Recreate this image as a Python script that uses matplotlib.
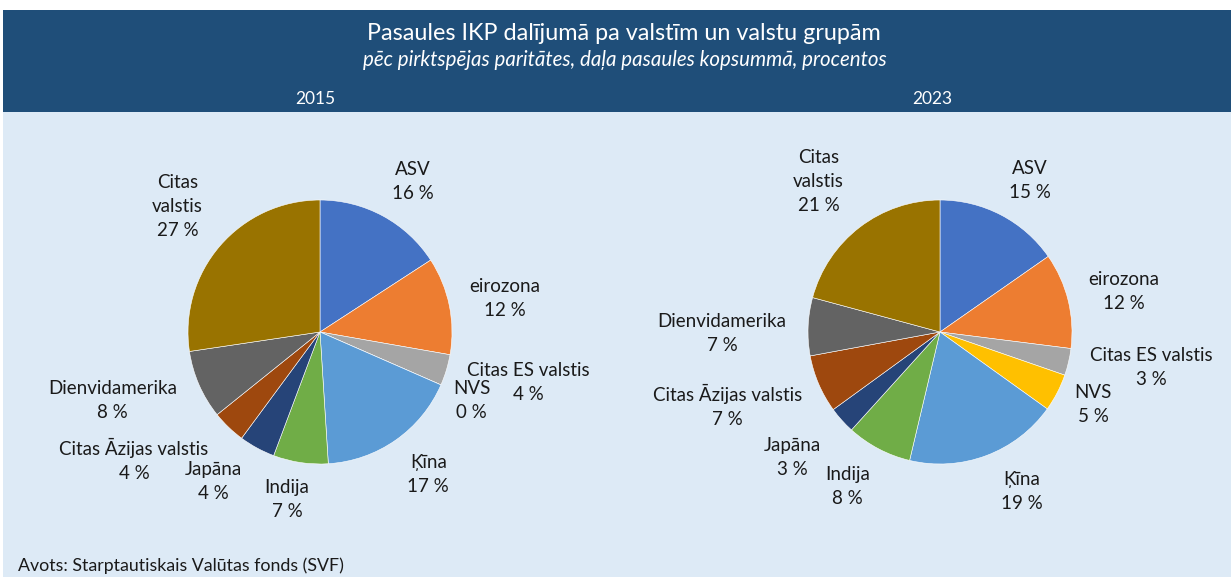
import matplotlib
matplotlib.use("Agg")
from matplotlib import pyplot as plt
from matplotlib.patches import Rectangle

plt.rcParams['font.family'] = ['Lato', 'DejaVu Sans']

# data (shares of world GDP, PPP, %)
regions = ["ASV", "eirozona", "Citas ES valstis", "NVS", "Ķīna", "Indija",
           "Japāna", "Citas Āzijas valstis", "Dienvidamerika", "Citas valstis"]
labels_2015 = ["ASV", "eirozona", "Citas ES valstis", "NVS", "Ķīna", "Indija",
               "Japāna", "Citas Āzijas valstis", "Dienvidamerika", "Citas\nvalstis"]
labels_2023 = labels_2015
share_2015 = [15.8, 11.9, 3.8, 0.0, 17.4, 6.7, 4.4, 4.1, 8.4, 27.3]
share_2023 = [15.3, 11.7, 3.3, 4.6, 18.8, 8.0, 3.3, 7.1, 7.1, 20.8]
colors = ["#4472C4", "#ED7D31", "#A5A5A5", "#FFC000", "#5B9BD5", "#70AD47",
          "#264478", "#9E480E", "#636363", "#997300"]

# label offsets in pie radius units (layout only)
pos_2015 = [(0.70, 1.14), (1.40, 0.25), (1.58, -0.38), (1.15, -0.52), (0.82, -1.08),
            (-0.25, -1.27), (-0.81, -1.13), (-1.41, -0.97), (-1.57, -0.52), (-1.08, 0.95)]
pos_2023 = [(0.68, 1.15), (1.39, 0.31), (1.60, -0.27), (1.16, -0.55), (0.62, -1.21),
            (-0.70, -1.17), (-1.12, -0.95), (-1.61, -0.56), (-1.65, -0.01), (-0.92, 1.14)]

W, H = 1231, 577
fig = plt.figure(figsize=(W / 100, H / 100), dpi=100)
fig.patch.set_facecolor("white")

# background panels on their own axes, below the pies
bg = fig.add_axes([0, 0, 1, 1], zorder=-1)
bg.set_xlim(0, W)
bg.set_ylim(H, 0)
bg.axis("off")
bg.add_patch(Rectangle((3, 112), W, H - 112, facecolor="#DDEAF6", edgecolor="none"))
bg.add_patch(Rectangle((3, 10), W, 102, facecolor="#1F4E79", edgecolor="none"))

bg.text(624, 33, "Pasaules IKP dalījumā pa valstīm un valstu grupām",
        color="white", fontsize=16.8, ha="center", va="center")
bg.text(625, 60, "pēc pirktspējas paritātes, daļa pasaules kopsummā, procentos",
        color="white", fontsize=14.8, style="italic", ha="center", va="center")
bg.text(315, 99, "2015", color="white", fontsize=12.5, ha="center", va="center")
bg.text(932, 99, "2023", color="white", fontsize=12.5, ha="center", va="center")
bg.text(18, 566, "Avots: Starptautiskais Valūtas fonds (SVF)",
        color="#1a1a1a", fontsize=12.8, ha="left", va="center")

r = 132  # pie radius, px
xl, yl = 2.2, 1.8


def draw_pie(cx, cy, values, labels, pos):
    ax = fig.add_axes([(cx - xl * r) / W, (H - cy - yl * r) / H, 2 * xl * r / W, 2 * yl * r / H])
    ax.pie(values, colors=colors, startangle=90, counterclock=False, radius=1,
           wedgeprops=dict(edgecolor="white", linewidth=0.4))
    ax.set_xlim(-xl, xl)
    ax.set_ylim(-yl, yl)
    ax.axis("off")
    for v, lab, (dx, dy) in zip(values, labels, pos):
        ax.text(dx, dy, "%s\n%d %%" % (lab, round(v)), ha="center", va="center",
                fontsize=13.5, color="#1a1a1a", linespacing=1.5)


draw_pie(320, 332, share_2015, labels_2015, pos_2015)
draw_pie(940, 332, share_2023, labels_2023, pos_2023)

fig.savefig("out.png", dpi=100)
